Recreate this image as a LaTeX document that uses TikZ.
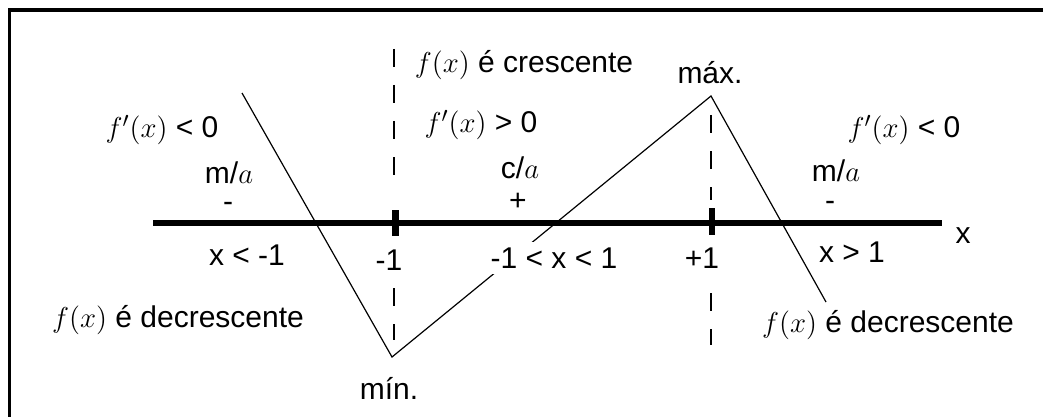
\documentclass[tikz,border=0pt]{standalone}
\usepackage{fontspec}
\setmainfont{Liberation Sans}
\usetikzlibrary{positioning}

\tikzset{
  txt/.style={font=\fontsize{15}{18}\selectfont, inner sep=0pt},
  guide/.style={line width=1pt, dash pattern=on 9pt off 9pt},
  curve/.style={line width=0.6pt},
  tick/.style={line width=3.2pt},
}

\begin{document}
\begin{tikzpicture}[x=0.5pt, y=-0.5pt]
\useasboundingbox (0,0) rectangle (1043,417);
\clip (0,0) rectangle (1043,417);
\draw[line width=1.6pt] (9.5,10) rectangle (1060,430);

% axis with the two ticks
\coordinate (axl) at (153,223);
\coordinate (axr) at (942,223);
\draw[line width=2.6pt] (axl) -- (axr);
\draw[tick] (395.5,210) -- (395.5,236);
\draw[tick] (712,208) -- (712,235);
\node[txt] (xlbl) at (963,236) {x};

% dashed guides through -1 and +1
\draw[guide] (394,49) -- (394,185);
\draw[guide] (394,288) -- (394,340);
\draw[guide] (711,115) -- (711,200);
\draw[guide] (711,293) -- (711,345);

% the graph
\coordinate (start) at (242,93);
\coordinate (min) at (392,357);
\coordinate (max) at (711,96);
\coordinate (stop) at (826,302);
\draw[curve] (start) -- (min) -- (max) -- (stop);

\node[txt] (minlbl) at (389,388) {mín.};
\node[txt] (maxlbl) at (710,73) {máx.};

% left interval
\node[txt] (dleft) at (162,130) {$f'(x)$ < 0};
\node[txt] (mleft) at (229,173) {m/$a$};
\node[txt] (sleft) at (228,207) {-};
\node[txt] (ileft) at (247,255) {x < -1};
\node[txt] (fleft) at (178,320) {$f(x)$ é decrescente};
\node[txt] (nm1) at (389,260) {-1};

% middle interval
\node[txt] (fmid) at (524,65) {$f(x)$ é crescente};
\node[txt] (dmid) at (481,125) {$f'(x)$ > 0};
\node[txt] (cmid) at (520,168) {c/$a$};
\node[txt] (smid) at (518,202) {+};
\node[txt, fill=white, inner sep=3pt] (imid) at (554,258) {-1 < x < 1};
\node[txt] (np1) at (702,258) {+1};

% right interval
\node[txt] (dright) at (904,130) {$f'(x)$ < 0};
\node[txt] (mright) at (836,171) {m/$a$};
\node[txt] (sright) at (830,206) {-};
\node[txt] (iright) at (852,252) {x > 1};
\node[txt] (fright) at (888,325) {$f(x)$ é decrescente};
\end{tikzpicture}
\end{document}
